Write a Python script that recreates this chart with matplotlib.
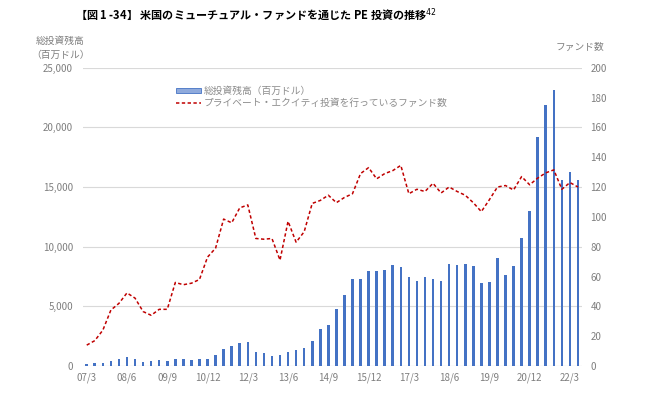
import matplotlib
matplotlib.use("Agg")
import matplotlib.pyplot as plt
import numpy as np
from matplotlib.patches import Patch

plt.rcParams['font.family'] = ['Noto Sans CJK JP', 'DejaVu Sans']

# quarterly categories 07/3 .. 22/6
categories = []
for yr in range(7, 23):
    for m in (3, 6, 9, 12):
        categories.append(f"{yr:02d}/{m}")
categories = categories[:62]

total_assets = [170, 250, 280, 440, 610, 750, 610, 360, 440, 500, 440, 610,
                560, 530, 610, 610, 920, 1420, 1670, 1950, 2030, 1200, 1080, 830,
                920, 1200, 1330, 1530, 2110, 3080, 3420, 4780, 5940, 7280, 7280, 7920,
                7980, 8060, 8450, 8310, 7450, 7110, 7500, 7280, 7110, 8540, 8480, 8540,
                8400, 6980, 7060, 9040, 7640, 8370, 10740, 13030, 19180, 21890, 23120, 15570,
                16240, 15570]

fund_count = [14, 17, 24, 37.5, 42, 49, 45.5, 36.5, 34, 38, 38, 56,
              54.5, 55.5, 58, 73, 79, 98.5, 96, 106, 108, 85.5, 85, 85.5,
              71, 97, 83, 90, 109, 111, 114.5, 109.5, 113, 115.5, 129, 133,
              125.5, 129, 131, 134.5, 115.5, 118.5, 117, 122.5, 116, 120, 117, 114.5,
              109.5, 103.5, 111.5, 120, 121, 118, 127, 121.5, 126, 129.5, 131.5, 118.5,
              123, 120]

left_ticks = [0, 5000, 10000, 15000, 20000, 25000]
left_tick_labels = ["0", "5,000", "10,000", "15,000", "20,000", "25,000"]
right_ticks = list(range(0, 201, 20))

title = "【図 1 -34】 米国のミューチュアル・ファンドを通じた PE 投資の推移$^{42}$"
bar_label = "総投資残高（百万ドル）"
line_label = "プライベート・エクイティ投資を行っているファンド数"

fig = plt.figure(figsize=(6.66, 3.96), dpi=100)
ax = fig.add_axes([82.7/666, 30/396, (582-82.7)/666, (366-67.7)/396])
ax2 = ax.twinx()

x = np.arange(len(categories))
gray = "#7f7f7f"

ax.bar(x, total_assets, width=0.32, color="#4472C4", edgecolor="none", zorder=2,
       label=bar_label)
ax2.plot(x, fund_count, color="#C00000", lw=1.1, ls=(0, (2.2, 1.6)), zorder=3,
         label=line_label)

ax.set_xlim(-0.5, len(categories) - 0.5)
ax.set_ylim(0, 25000)
ax2.set_ylim(0, 200)
ax.set_yticks(left_ticks)
ax.set_yticklabels(left_tick_labels)
ax2.set_yticks(right_ticks)

ax.set_xticks(x[::5])
ax.set_xticklabels([categories[i] for i in range(0, len(categories), 5)])

for a in (ax, ax2):
    for s in a.spines.values():
        s.set_visible(False)
    a.tick_params(axis='both', length=0, labelsize=7, colors=gray)
ax.tick_params(axis='x', pad=5)
ax.tick_params(axis='y', pad=7)
ax2.tick_params(axis='y', pad=6)

ax.yaxis.grid(True, color="#d9d9d9", lw=0.8, zorder=0)
ax.set_axisbelow(True)
ax.axhline(0, color="#d9d9d9", lw=0.8, zorder=1)

fig.text(75/666, 1 - 15/396, title, fontsize=8, fontweight='bold',
         ha='left', va='center', color="#000000")
fig.text(60/666, 1 - 48/396, "総投資残高\n（百万ドル）", fontsize=7, color=gray,
         ha='center', va='center', linespacing=1.4)
fig.text(604/666, 1 - 47/396, "ファンド数", fontsize=7, color=gray,
         ha='right', va='center')

h2, l2 = ax2.get_legend_handles_labels()
h1 = [Patch(facecolor="#8faadc", edgecolor="#4472C4", lw=0.6)]
leg = ax2.legend(h1 + h2, [bar_label] + l2, loc='upper left',
                 bbox_to_anchor=((172 - 82.7)/(582 - 82.7), (366 - 82)/(366 - 67.7)),
                 frameon=False, fontsize=7, handlelength=2.6, handleheight=0.5,
                 handletextpad=0.3, labelspacing=0.25, borderaxespad=0)
for t in leg.get_texts():
    t.set_color("#8c8c8c")

fig.savefig("out.png", dpi=100, facecolor="white")
